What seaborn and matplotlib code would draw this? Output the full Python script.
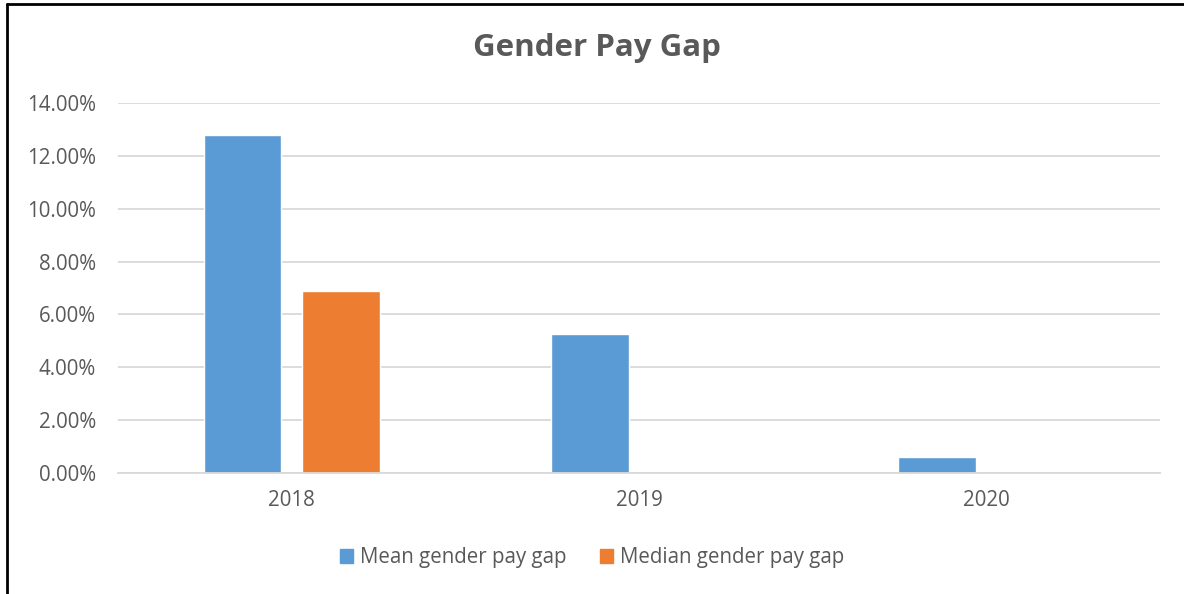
import pandas as pd
import matplotlib.pyplot as plt
import seaborn as sns
from matplotlib.lines import Line2D
from matplotlib.ticker import PercentFormatter

years = ['2018', '2019', '2020']
mean_gap = [12.8, 5.25, 0.6]
median_gap = [6.9, 0.0, 0.0]
series = ['Mean gender pay gap', 'Median gender pay gap']
colours = ['#5B9BD5', '#ED7D31']

df = pd.DataFrame({'year': years * 2,
                   'gap': mean_gap + median_gap,
                   'series': [series[0]] * 3 + [series[1]] * 3})

sns.set_theme(style="white")
plt.rcParams['font.family'] = ['Open Sans', 'DejaVu Sans']
txt = '#595959'

fig = plt.figure(figsize=(11.84, 5.94), dpi=100)
ax = fig.add_axes([118 / 1184, 1 - 473 / 594, (1160 - 118) / 1184, 370 / 594])

sns.barplot(data=df, x='year', y='gap', hue='series', palette=colours,
            width=0.567, gap=0.21, ax=ax, saturation=1)

ax.set_ylim(0, 14)
ax.set_yticks(range(0, 15, 2))
ax.yaxis.set_major_formatter(PercentFormatter(decimals=2))
ax.grid(axis='y', color='#D9D9D9', linewidth=1.3)
ax.set_axisbelow(True)
for s in ['top', 'right', 'left']:
    ax.spines[s].set_visible(False)
ax.spines['bottom'].set_color('#D9D9D9')
ax.spines['bottom'].set_linewidth(1.3)
ax.tick_params(axis='both', length=0, labelsize=14.8, labelcolor=txt)
ax.tick_params(axis='y', pad=16)
ax.tick_params(axis='x', pad=12)
ax.set_xlabel('')
ax.set_ylabel('')

ax.legend_.remove()
handles = [plt.Rectangle((0, 0), 1, 1, color=c) for c in colours]
fig.legend(handles, series, loc='center', bbox_to_anchor=(0.5, 1 - 558 / 594),
           ncol=2, frameon=False, fontsize=14.8, labelcolor=txt,
           handlelength=0.65, handleheight=0.65, handletextpad=0.35, columnspacing=1.6)

fig.text(0.504, 1 - 48 / 594, 'Gender Pay Gap', ha='center', va='center',
         fontsize=22.5, fontweight='bold', color=txt)

# chart border (left and top edges visible in the crop)
fig.add_artist(Line2D([6.5 / 1184, 6.5 / 1184], [0, 1 - 4 / 594], color='black', lw=2))
fig.add_artist(Line2D([6.5 / 1184, 1], [1 - 4 / 594, 1 - 4 / 594], color='black', lw=2))

fig.savefig('out.png', dpi=100)
